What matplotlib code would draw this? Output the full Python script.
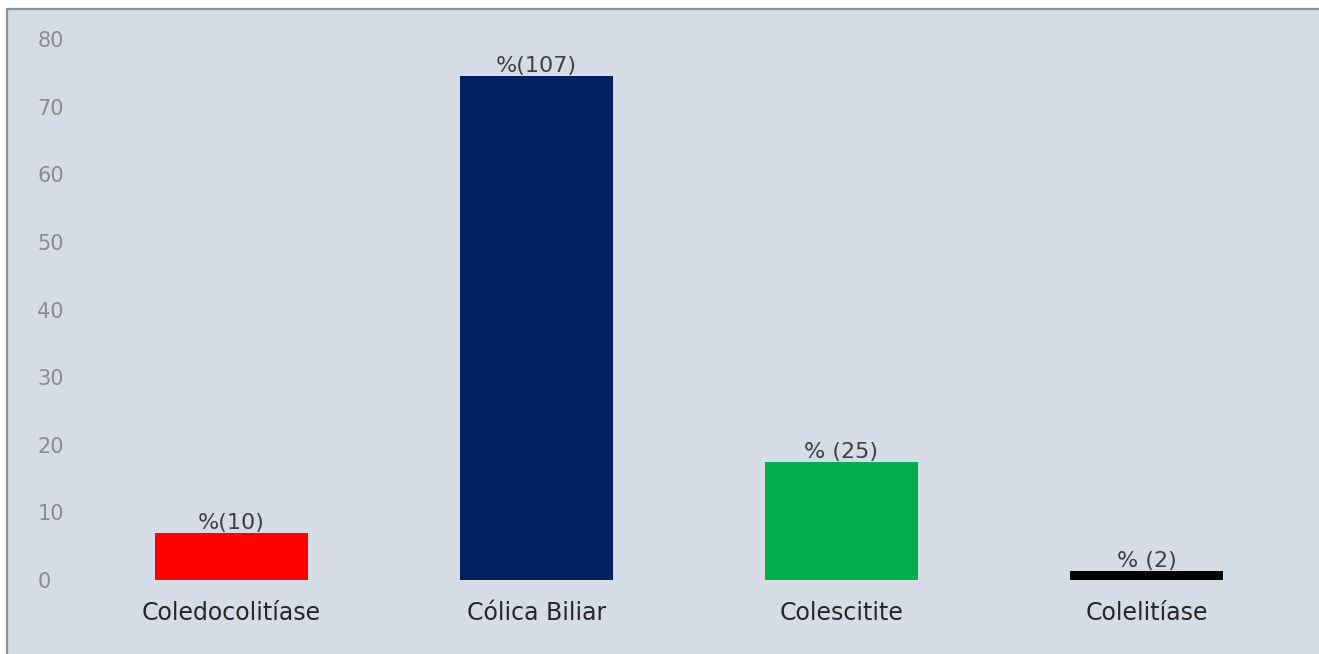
import matplotlib
matplotlib.use('Agg')
import matplotlib.pyplot as plt
from matplotlib.patches import Rectangle

# --------------------------------------- Data -------------------------------------
categories = ['Coledocolitíase', 'Cólica Biliar', 'Colescitite', 'Colelitíase']
percentages = [6.9, 74.5, 17.4, 1.4]
value_labels = ['%(10)', '%(107)', '% (25)', '% (2)']
bar_colors = ['#FF0000', '#002060', '#00B050', '#000000']
y_ticks = [0, 10, 20, 30, 40, 50, 60, 70, 80]

BG = '#D6DCE5'
W, H = 1319, 654

# --------------------------------------- Plot -------------------------------------
plt.rcParams['font.family'] = ['DejaVu Sans']

fig = plt.figure(figsize=(W / 100, H / 100), dpi=100, facecolor='white')
# panel background with the grey frame on the left and top
fig.add_artist(Rectangle((7 / W, -0.01), 1.02, 1 - 9 / H + 0.01, transform=fig.transFigure,
                         facecolor=BG, edgecolor='#8C8F94', linewidth=1.6, zorder=0))

ax = fig.add_axes([79 / W, 74 / H, 1220 / W, 541 / H])
ax.set_facecolor('none')

x = range(len(categories))
bars = ax.bar(x, percentages, width=0.5, color=bar_colors)
for rect, lbl in zip(bars, value_labels):
    ax.annotate(lbl, (rect.get_x() + rect.get_width() / 2, rect.get_height()),
                xytext=(0, 0), textcoords='offset points', ha='center', va='bottom',
                fontsize=16, color='#404040')

ax.set_xlim(-0.5, 3.5)
ax.set_ylim(0, 80)
ax.set_yticks(y_ticks)
ax.set_xticks(list(x))
ax.set_xticklabels(categories, fontsize=17, color='#262626')
ax.tick_params(axis='x', length=0, pad=15)
ax.tick_params(axis='y', length=0, pad=30, labelsize=15, labelcolor='#8C8C8C')
for t in ax.get_yticklabels():
    t.set_horizontalalignment('left')

for s in ax.spines.values():
    s.set_visible(False)

fig.savefig('out.png', dpi=100, facecolor=fig.get_facecolor())
